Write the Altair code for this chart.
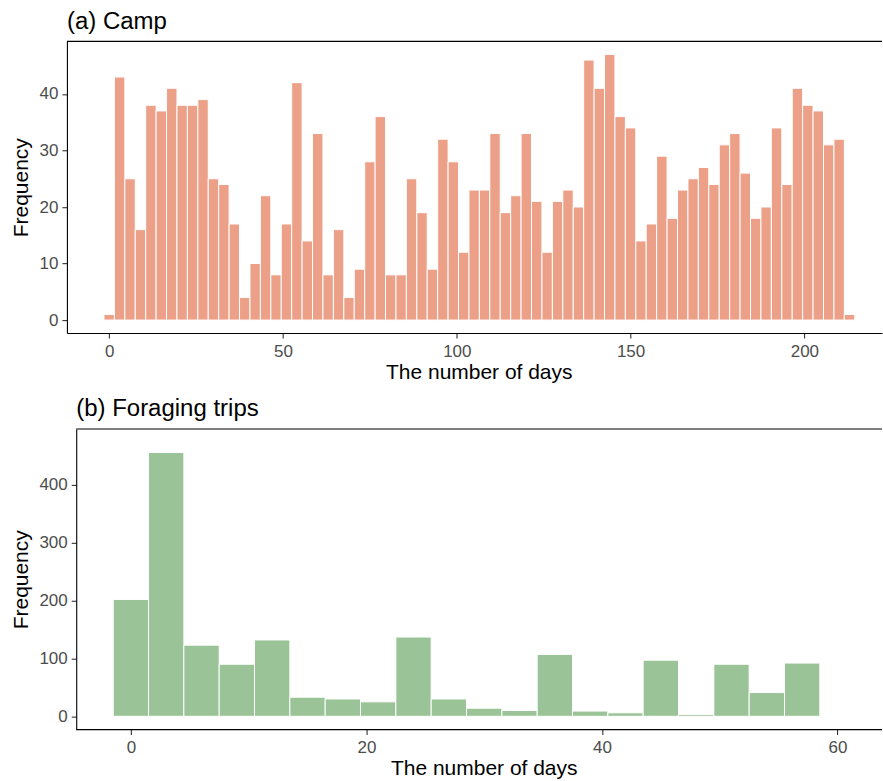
import altair as alt
import pandas as pd

# (a) Camp: bin centres (days) and frequencies
camp_days = list(range(0, 216, 3))
camp_freq = [1, 43, 25, 16, 38, 37, 41, 38, 38, 39, 25, 24, 17, 4, 10, 22, 8, 17,
             42, 14, 33, 8, 16, 4, 9, 28, 36, 8, 8, 25, 19, 9, 32, 28, 12, 23,
             23, 33, 19, 22, 33, 21, 12, 21, 23, 20, 46, 41, 47, 36, 34, 14, 17, 29,
             18, 23, 25, 27, 24, 31, 33, 26, 18, 20, 34, 24, 41, 38, 37, 31, 32, 1]

# (b) Foraging trips: bin centres (days) and frequencies
trip_days = list(range(0, 60, 3))
trip_freq = [202, 456, 123, 90, 132, 33, 30, 25, 137, 30, 14, 10, 107, 9, 6, 97, 3, 90, 41, 92]

BINW = 3

camp_df = pd.DataFrame({"day": camp_days, "freq": camp_freq})
camp_df["start"] = camp_df["day"] - BINW / 2
camp_df["end"] = camp_df["day"] + BINW / 2

trip_df = pd.DataFrame({"day": trip_days, "freq": trip_freq})
trip_df["start"] = trip_df["day"] - BINW / 2
trip_df["end"] = trip_df["day"] + BINW / 2

FONT = "Liberation Sans"
W = 816
SHIFT_B = 9.3  # bottom panel starts a little to the right of the top panel

axis_common = dict(
    grid=False,
    domainColor="black",
    domainWidth=1.1,
    tickColor="#333333",
    tickWidth=1.1,
    tickSize=5,
    labelColor="#4D4D4D",
    labelFontSize=17,
    labelFont=FONT,
    titleFont=FONT,
    titleFontSize=21,
    titleFontWeight="normal",
    titleColor="black",
)

frame_df = pd.DataFrame({"k": [0]})


def frame_rule(x0, x1, y):
    return alt.Chart(frame_df).mark_rule(color="black", strokeWidth=1.1).encode(
        x=alt.value(x0), x2=alt.value(x1), y=alt.value(y)
    )


def panel(df, color, xdom, ydom, xticks, yticks, h, title, title_x, shift):
    bars = (
        alt.Chart(df)
        .mark_rect(color=color, stroke="white", strokeWidth=1)
        .encode(
            x=alt.X(
                "start:Q",
                scale=alt.Scale(domain=xdom, nice=False, zero=False),
                axis=alt.Axis(values=xticks, title="The number of days",
                              labelPadding=5, titlePadding=2, titleX=title_x,
                              domain=(shift == 0), **axis_common),
            ),
            x2="end:Q",
            y=alt.Y(
                "freq:Q",
                scale=alt.Scale(domain=ydom, nice=False, zero=False),
                axis=alt.Axis(values=yticks, title="Frequency",
                              labelPadding=4, titlePadding=7.5,
                              offset=-shift, **axis_common),
            ),
            y2=alt.datum(0),
        )
    )
    layers = [bars, frame_rule(shift, W, 0)]
    if shift:
        layers.append(frame_rule(shift, W, h))
    return alt.layer(*layers).properties(
        width=W,
        height=h,
        title=alt.TitleParams(
            title, anchor="start", frame="group", font=FONT, fontSize=24,
            fontWeight="normal", color="black", offset=7, dx=shift,
        ),
    )


top = panel(camp_df, "#EDA088", [-12.16, 222.33], [-2.3, 49.3],
            [0, 50, 100, 150, 200], [0, 10, 20, 30, 40], 292,
            "(a) Camp", 412.3, 0)
bottom = panel(trip_df, "#9AC398", [-5.43, 63.78], [-23, 496.7],
               [0, 20, 40, 60], [0, 100, 200, 300, 400], 301,
               "(b) Foraging trips", 417.3, SHIFT_B)

chart = (
    alt.vconcat(top, bottom, spacing=15)
    .resolve_scale(x="independent", y="independent")
    .configure_view(stroke=None)
    .properties(
        padding={"left": 10, "top": 9, "right": 0, "bottom": 0},
        background="white",
    )
)

chart.save("out.html", embed_options={"renderer": "svg", "actions": False})
